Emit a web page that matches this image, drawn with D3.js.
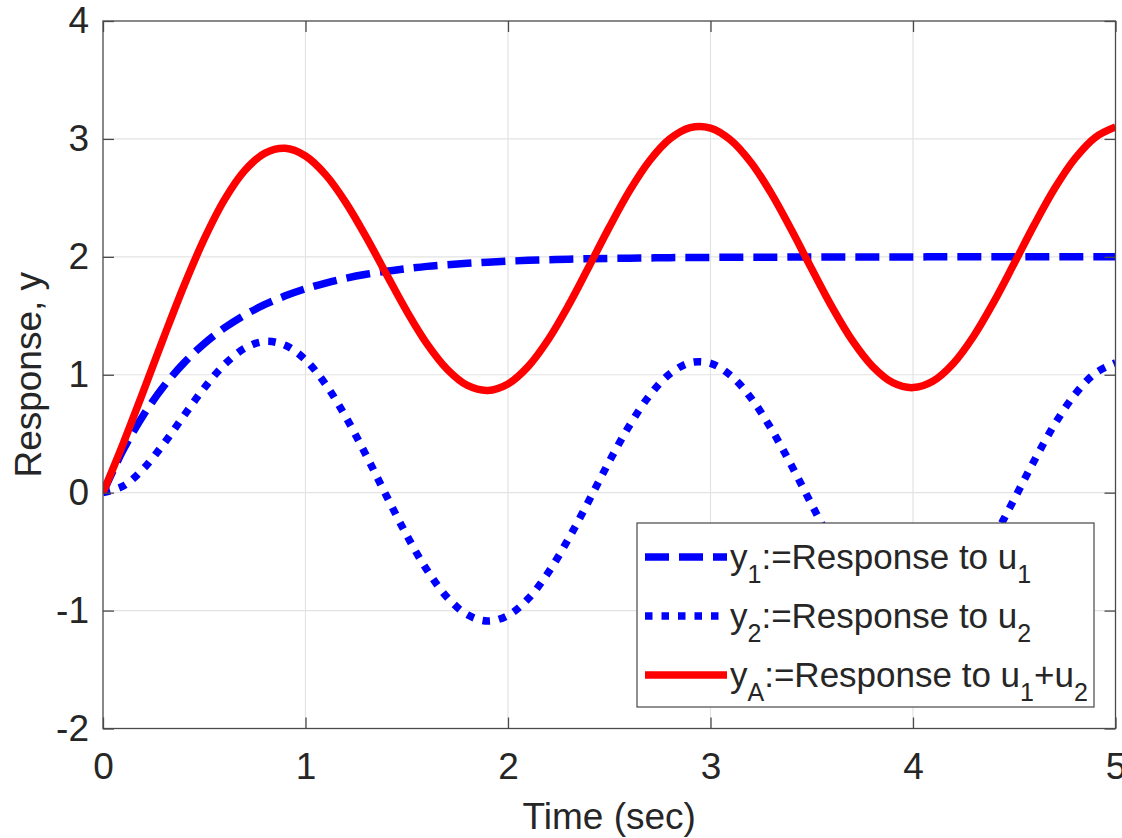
<!DOCTYPE html>
<html>
<head>
<meta charset="utf-8">
<script src="https://cdn.jsdelivr.net/npm/d3@7"></script>
<style>
  html, body { margin: 0; padding: 0; background: #fff; }
  svg { display: block; }
  text { font-family: "Liberation Sans", Arial, Helvetica, sans-serif; fill: #262626; }
</style>
</head>
<body>
<svg id="chart" width="1122" height="838"></svg>
<script>
// ---- data ----
const time = [0,0.1,0.2,0.3,0.4,0.5,0.6,0.7,0.8,0.9,1.0,1.1,1.2,1.3,1.4,1.5,1.6,1.7,1.8,1.9,2.0,
  2.1,2.2,2.3,2.4,2.5,2.6,2.7,2.8,2.9,3.0,3.1,3.2,3.3,3.4,3.5,3.6,3.7,3.8,3.9,4.0,
  4.1,4.2,4.3,4.4,4.5,4.6,4.7,4.8,4.9,5.0];
const y1Values = [0,0.363,0.659,0.902,1.101,1.264,1.398,1.507,1.596,1.669,1.729,1.778,1.819,1.852,1.878,1.900,1.919,1.933,1.945,1.955,1.963,
  1.970,1.975,1.980,1.984,1.987,1.989,1.991,1.993,1.994,1.995,1.996,1.997,1.997,1.998,1.998,1.999,1.999,1.999,1.999,1.999,
  2.0,2.0,2.0,2.0,2.0,2.0,2.0,2.0,2.0,2.0];
const y2Values = [0,0.056,0.204,0.415,0.654,0.888,1.087,1.225,1.283,1.250,1.126,0.917,0.639,0.315,-0.028,-0.361,-0.656,-0.888,-1.036,-1.089,-1.041,
  -0.899,-0.674,-0.388,-0.066,0.264,0.570,0.826,1.009,1.102,1.097,0.994,0.803,0.541,0.230,-0.102,-0.424,-0.708,-0.929,-1.066,-1.109,
  -1.052,-0.902,-0.671,-0.379,-0.054,0.275,0.581,0.834,1.013,1.101];
const yAValues = [0,0.418,0.864,1.317,1.755,2.152,2.485,2.732,2.879,2.920,2.855,2.695,2.458,2.167,1.851,1.539,1.262,1.046,0.909,0.867,0.922,
  1.071,1.301,1.592,1.918,2.250,2.559,2.817,3.001,3.096,3.092,2.990,2.800,2.538,2.227,1.897,1.575,1.291,1.071,0.933,0.891,
  0.947,1.098,1.329,1.620,1.945,2.275,2.581,2.834,3.013,3.101];
const xTicks = [0,1,2,3,4,5];
const yTicks = [-2,-1,0,1,2,3,4];
const xLabel = "Time (sec)";
const yLabel = "Response, y";
// legend pieces: [text, isSubscript]
const legendItems = [
  [["y", false], ["1", true], [":=Response to u", false], ["1", true]],
  [["y", false], ["2", true], [":=Response to u", false], ["2", true]],
  [["y", false], ["A", true], [":=Response to u", false], ["1", true], ["+u", false], ["2", true]]
];

// ---- layout ----
const svg = d3.select("#chart");
const L = 103, R = 1115.5, T = 21, B = 728.5;
const x = d3.scaleLinear().domain([0, 5]).range([L, R]);
const y = d3.scaleLinear().domain([-2, 4]).range([B, T]);

// grid
const grid = svg.append("g");
grid.selectAll("line.gx").data(xTicks.slice(1, -1)).join("line")
  .attr("x1", d => x(d)).attr("x2", d => x(d)).attr("y1", T).attr("y2", B)
  .attr("stroke", "#e3e3e3").attr("stroke-width", 1.2);
grid.selectAll("line.gy").data(yTicks.slice(1, -1)).join("line")
  .attr("y1", d => y(d)).attr("y2", d => y(d)).attr("x1", L).attr("x2", R)
  .attr("stroke", "#e3e3e3").attr("stroke-width", 1.2);

// clip
svg.append("clipPath").attr("id", "clip").append("rect")
  .attr("x", L).attr("y", T).attr("width", R - L).attr("height", B - T);

const series = [
  {vals: y1Values, color: "#0000ff", dash: "24,10"},
  {vals: y2Values, color: "#0000ff", dash: "7.5,9"},
  {vals: yAValues, color: "#ff0000", dash: null}
];
const line = d3.line().x(d => x(d[0])).y(d => y(d[1])).curve(d3.curveCatmullRom.alpha(0.5));
const plot = svg.append("g").attr("clip-path", "url(#clip)");
series.forEach(s => {
  plot.append("path")
    .datum(time.map((t, i) => [t, s.vals[i]]))
    .attr("d", line)
    .attr("fill", "none")
    .attr("stroke", s.color)
    .attr("stroke-width", 7.5)
    .attr("stroke-dasharray", s.dash)
    .attr("stroke-linejoin", "round");
});

// axes (MATLAB style box, inward ticks)
const tickLen = 11;
const fmt = d => String(d);
const axBottom = d3.axisBottom(x).tickValues(xTicks).tickSize(-tickLen).tickPadding(24).tickFormat(fmt);
const axTop = d3.axisTop(x).tickValues(xTicks).tickSize(-tickLen).tickFormat("");
const axLeft = d3.axisLeft(y).tickValues(yTicks).tickSize(-tickLen).tickPadding(14).tickFormat(fmt);
const axRight = d3.axisRight(y).tickValues(yTicks).tickSize(-tickLen).tickFormat("");

function style(g) {
  g.select(".domain").remove();
  g.selectAll(".tick line").attr("stroke", "#4a4a4a").attr("stroke-width", 1.3);
  g.selectAll(".tick text").attr("fill", "#262626").style("font-size", "37px")
    .style("font-family", "'Liberation Sans', Arial, sans-serif");
}
svg.append("g").attr("transform", `translate(0,${B})`).call(axBottom).call(style);
svg.append("g").attr("transform", `translate(0,${T})`).call(axTop).call(style);
svg.append("g").attr("transform", `translate(${L},0)`).call(axLeft).call(style);
svg.append("g").attr("transform", `translate(${R},0)`).call(axRight).call(style);

svg.append("rect").attr("x", L).attr("y", T).attr("width", R - L).attr("height", B - T)
  .attr("fill", "none").attr("stroke", "#4a4a4a").attr("stroke-width", 1.3);

// axis labels
svg.append("text").attr("x", (L + R) / 2).attr("y", 829).attr("text-anchor", "middle")
  .style("font-size", "37px").text(xLabel);
svg.append("text").attr("transform", `translate(41,${(T + B) / 2}) rotate(-90)`).attr("text-anchor", "middle")
  .style("font-size", "37px").text(yLabel);

// legend
const lg = svg.append("g");
const LX0 = 637, LY0 = 523, LX1 = 1094, LY1 = 707;
lg.append("rect").attr("x", LX0).attr("y", LY0).attr("width", LX1 - LX0).attr("height", LY1 - LY0)
  .attr("fill", "#fff").attr("stroke", "#555").attr("stroke-width", 1.3);
const rowY = [557, 616, 675];
legendItems.forEach((parts, i) => {
  const s = series[i];
  lg.append("line").attr("x1", 645).attr("x2", 727).attr("y1", rowY[i]).attr("y2", rowY[i])
    .attr("stroke", s.color).attr("stroke-width", 7.5).attr("stroke-dasharray", s.dash);
  const t = lg.append("text").attr("x", 730).attr("y", rowY[i] + 12).style("font-size", "35px");
  let shifted = false;
  parts.forEach(p => {
    const ts = t.append("tspan").text(p[0]);
    if (p[1]) {
      ts.style("font-size", "25px");
      if (!shifted) { ts.attr("dy", 14); shifted = true; }
    } else if (shifted) {
      ts.attr("dy", -14); shifted = false;
    }
  });
});
</script>
</body>
</html>
